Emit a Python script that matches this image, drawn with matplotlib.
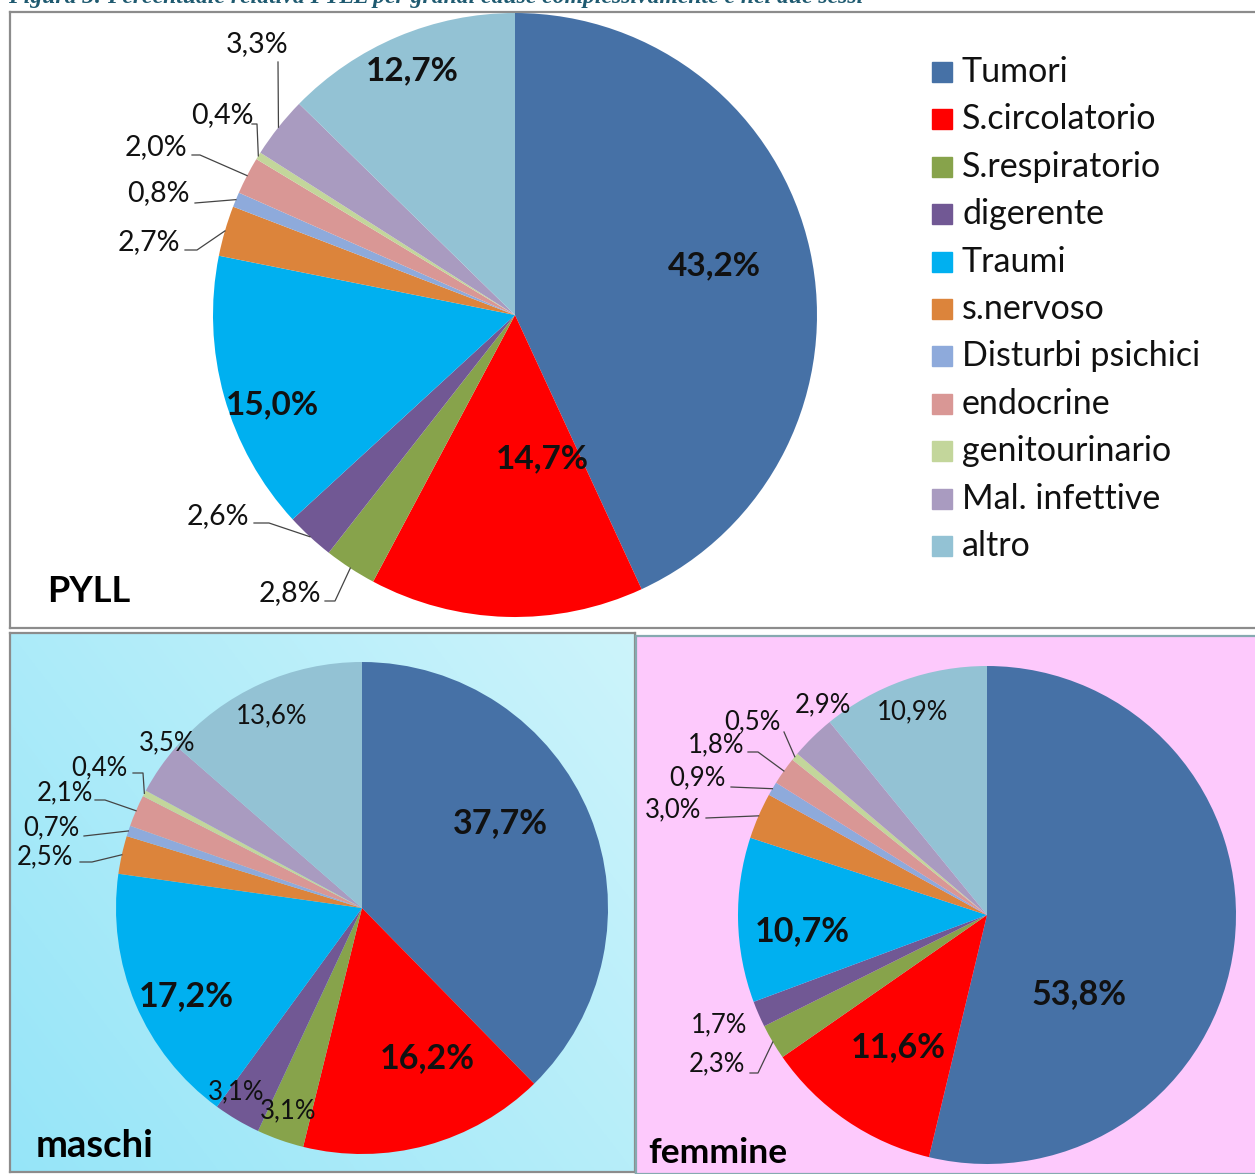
import numpy as np
import matplotlib
matplotlib.use("Agg")
import matplotlib.pyplot as plt
from matplotlib.lines import Line2D

plt.rcParams['font.family'] = ['Lato', 'DejaVu Sans']

# --- dati ---
categories = ["Tumori", "S.circolatorio", "S.respiratorio", "digerente", "Traumi",
              "s.nervoso", "Disturbi psichici", "endocrine", "genitourinario",
              "Mal. infettive", "altro"]
pyll = [43.2, 14.7, 2.8, 2.6, 15.0, 2.7, 0.8, 2.0, 0.4, 3.3, 12.7]
maschi = [37.7, 16.2, 3.1, 3.1, 17.2, 2.5, 0.7, 2.1, 0.4, 3.5, 13.6]
femmine = [53.8, 11.6, 2.3, 1.7, 10.7, 3.0, 0.9, 1.8, 0.5, 2.9, 10.9]

colors = ["#4671a6", "#ff0000", "#87a34b", "#715894", "#00b0f0", "#dc843b",
          "#8eaadb", "#d99795", "#c3d69b", "#a99bc0", "#93c2d4"]

W, H = 1255, 1174
fig = plt.figure(figsize=(W / 100, H / 100), dpi=100)


def fx(x):
    return x / W


def fy(y):
    return 1 - y / H


def panel(x0, y0, x1, y1, face="white", edge="#8c8c8c"):
    ax = fig.add_axes([fx(x0), fy(y1), (x1 - x0) / W, (y1 - y0) / H], zorder=-1)
    ax.set_facecolor(face)
    ax.set_xticks([])
    ax.set_yticks([])
    for s in ax.spines.values():
        s.set_color(edge)
        s.set_linewidth(1.6)
    return ax


# titolo (tagliato in alto come nell'originale)
fig.text(fx(8), fy(3), "Figura 3: Percentuale relativa PYLL per grandi cause complessivamente e nei due sessi",
         family="Liberation Serif", style="italic", weight="bold", fontsize=17,
         color="#1f5a70", ha="left", va="baseline")

panel(10, 12, W + 10, 628)
axm = panel(10, 633, 635, 1172)
# gradiente azzurro
gx, gy = np.meshgrid(np.linspace(0, 1, 200), np.linspace(0, 1, 200))
wgt = np.clip(0.6 * gx + 0.4 * (1 - gy), 0, 1)[..., None]
dark = np.array([150, 229, 248]) / 255
light = np.array([205, 244, 251]) / 255
axm.imshow(dark * (1 - wgt) + light * wgt, extent=[0, 1, 0, 1], aspect="auto", origin="upper")
axm.set_xlim(0, 1)
axm.set_ylim(0, 1)
panel(636, 636, W + 10, 1174, face="#fdc9fc", edge="#86a9b0")

# layout etichette: (x, y, grassetto, inizio linea guida, tratto orizzontale)
lay_pyll = [(714, 266, True, None, 0), (542, 459, True, None, 0),
            (290, 593, False, (325, 601), 10), (218, 516, False, (254, 523), 15),
            (272, 405, True, None, 0), (149, 242, False, (185, 250), 12),
            (158, 193, False, (195, 203), 0), (156, 147, False, (192, 155), 8),
            (222, 115, False, (252, 124), 5), (257, 44, False, (278, 62), 0),
            (412, 71, True, None, 0)]
lay_m = [(500, 823, True, None, 0), (427, 1058, True, None, 0),
         (288, 1111, False, None, 0), (236, 1092, False, None, 0),
         (186, 996, True, None, 0), (45, 857, False, (80, 862), 12),
         (51, 828, False, (84, 836), 0), (65, 793, False, (95, 800), 10),
         (99, 768, False, (133, 773), 10), (167, 743, False, None, 0),
         (272, 716, False, None, 0)]
lay_f = [(1079, 994, True, None, 0), (898, 1047, True, None, 0),
         (717, 1064, False, (750, 1073), 8), (719, 1025, False, None, 0),
         (802, 931, True, None, 0), (673, 810, False, (706, 818), 0),
         (697, 778, False, (731, 787), 0), (716, 745, False, (748, 752), 10),
         (752, 722, False, (784, 732), 0), (823, 705, False, None, 0),
         (913, 712, False, None, 0)]


def draw_pie(values, cx, cy, r, layout, small, big):
    ax = fig.add_axes([fx(cx - r), fy(cy + r), 2 * r / W, 2 * r / H])
    wedges, _ = ax.pie(values, colors=colors, startangle=90, counterclock=False,
                       radius=1, wedgeprops=dict(linewidth=0))
    ax.set_xlim(-1, 1)
    ax.set_ylim(-1, 1)
    ax.set_aspect("equal")
    ax.axis("off")
    for w, v, (x, y, bold, lead, elbow) in zip(wedges, values, layout):
        txt = f"{v:.1f}%".replace(".", ",")
        fig.text(fx(x), fy(y), txt, ha="center", va="center",
                 fontsize=big if bold else small,
                 weight="bold" if bold else "normal", color="#111111")
        if lead is not None:
            mid = np.radians((w.theta1 + w.theta2) / 2)
            ex, ey = cx + r * np.cos(mid), cy - r * np.sin(mid)
            xs = [lead[0], lead[0] + elbow, ex]
            ys = [lead[1], lead[1], ey]
            fig.add_artist(Line2D([fx(a) for a in xs], [fy(b) for b in ys],
                                  color="#444444", lw=0.9))
    return wedges


draw_pie(pyll, 515, 315, 302, lay_pyll, 20.5, 24)
draw_pie(maschi, 362, 908, 246, lay_m, 18.5, 24.5)
draw_pie(femmine, 987, 915, 249, lay_f, 18.5, 24.5)

# legenda
for i, name in enumerate(categories):
    yy = 72 + i * 47.4
    fig.patches.append(plt.Rectangle((fx(932), fy(yy + 10)), 20 / W, 20 / H,
                                     transform=fig.transFigure, color=colors[i]))
    fig.text(fx(962), fy(yy), name, ha="left", va="center", fontsize=24.5, color="#111111")

fig.text(fx(47), fy(591), "PYLL", ha="left", va="center", fontsize=26, weight="bold")
fig.text(fx(36), fy(1146), "maschi", ha="left", va="center", fontsize=27.5, weight="bold")
fig.text(fx(648), fy(1153), "femmine", ha="left", va="center", fontsize=25.5, weight="bold")

fig.savefig("out.png", dpi=100)
